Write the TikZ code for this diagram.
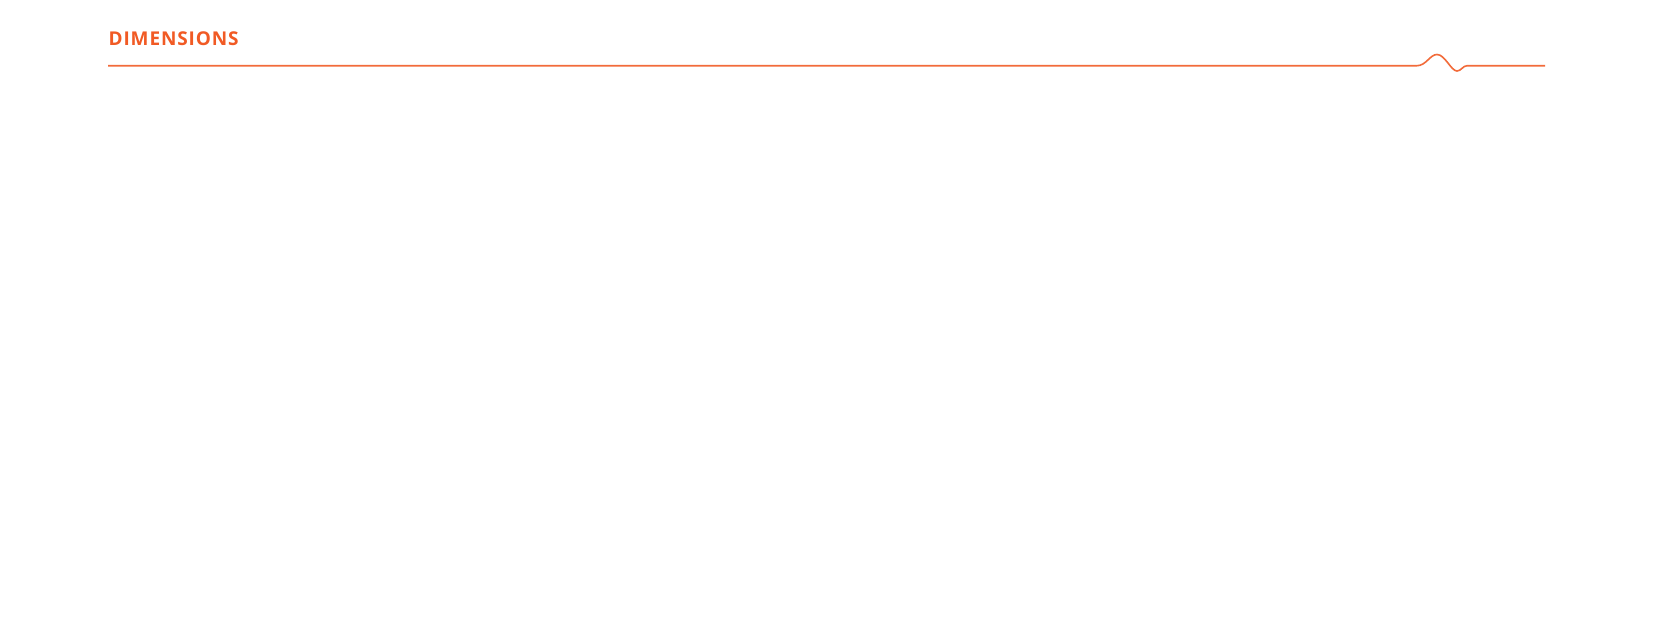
\documentclass[tikz,border=0pt]{standalone}
\usepackage{fontspec}
\setmainfont{Open Sans}
\newfontfamily\titlefont[LetterSpace=4.5]{Open Sans}
\definecolor{titleorange}{HTML}{F15A24}
\definecolor{lineorange}{HTML}{F26B3A}
\begin{document}
\begin{tikzpicture}[x=1pt,y=-1pt,
  titletext/.style={anchor=base west,inner sep=0pt,text=titleorange,font=\titlefont\fontsize{19}{22}\selectfont\bfseries},
  ruleline/.style={draw=lineorange,line width=1.6pt}]
\useasboundingbox (0,0) rectangle (1654,638);
\fill[white] (0,0) rectangle (1654,638);
\node[titletext] (title) at (108.5,45.3) {DIMENSIONS};
\coordinate (ls) at (108,65.7);
\coordinate (ws) at (1417,65.7);
\coordinate (wp) at (1437,54.5);
\coordinate (wt) at (1457,71);
\coordinate (we) at (1467,65.7);
\coordinate (le) at (1545,65.7);
\draw[ruleline] (ls) -- (ws) .. controls (1426,65.7) and (1430,54.5) .. (wp)
  .. controls (1445,54.5) and (1451,71) .. (wt)
  .. controls (1461,71) and (1463,65.7) .. (we) -- (le);
\end{tikzpicture}
\end{document}
